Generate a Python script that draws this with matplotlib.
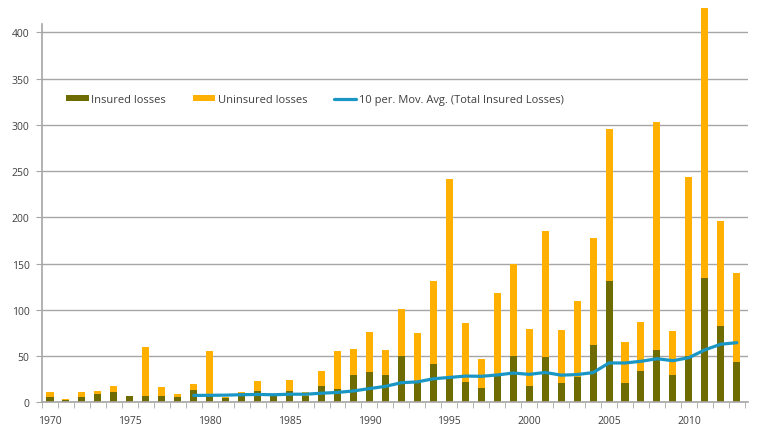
import matplotlib
matplotlib.use("Agg")
import matplotlib.pyplot as plt
import numpy as np
import pandas as pd

years = list(range(1970, 2014))
insured = [6, 3, 6, 9, 11, 6.5, 7, 6.5, 6, 13.5,
           7, 5, 10.5, 12, 7.5, 12.5, 6.8, 17.5, 14.5, 29.5,
           32.5, 29, 50, 21, 41, 27, 21.5, 15, 29, 50.5,
           18, 49.5, 21, 27.5, 62, 131.5, 21, 33.5, 56.5, 29.5,
           50.5, 134, 82, 44]
total = [11, 4, 11, 12, 18, 7, 59.5, 17, 8.5, 20,
         55.5, 6, 11.5, 22.5, 8, 24, 11.5, 33.5, 55, 58,
         75.5, 56.5, 100.5, 74.5, 131, 241.5, 85.5, 47, 118, 150,
         79.5, 185, 78, 110, 178, 295, 65, 86.5, 303, 77,
         244, 426, 196, 140]
uninsured = [t - i for t, i in zip(total, insured)]
mov_avg = pd.Series(insured).rolling(10).mean()

yticks = [0, 50, 100, 150, 200, 250, 300, 350, 400]
xlabels = [1970, 1975, 1980, 1985, 1990, 1995, 2000, 2005, 2010]

plt.rcParams['font.family'] = ['Open Sans', 'DejaVu Sans']
fig = plt.figure(figsize=(7.8, 4.35), dpi=100)
ax = fig.add_axes([42/780, (435-403.3)/435, (748-42)/780, (403.3-25)/435])

olive = '#6e6c00'
orange = '#ffb000'
blue = '#1a96c4'
grey = '#a6a6a6'
txt = '#404040'

w = 0.44
b1 = ax.bar(years, insured, width=w, color=olive, label='Insured losses', zorder=2, clip_on=False)
b2 = ax.bar(years, uninsured, width=w, bottom=insured, color=orange, label='Uninsured losses', zorder=2, clip_on=False)
l1, = ax.plot(years, mov_avg, color=blue, lw=2.3, label='10 per. Mov. Avg. (Total Insured Losses)', zorder=3,
              solid_capstyle='round', solid_joinstyle='round')

ax.set_xlim(1969.5, 2013.7)
ax.set_ylim(0, 409)
ax.set_yticks(yticks)
ax.set_yticklabels([str(v) for v in yticks])
ax.set_xticks(xlabels)
ax.set_xticklabels([str(v) for v in xlabels])
ax.set_xticks(np.arange(1969.5, 2014, 1), minor=True)
ax.tick_params(axis='x', which='major', length=0, pad=9, labelsize=7.5, labelcolor=txt)
ax.tick_params(axis='x', which='minor', length=4, color=grey, direction='out')
ax.tick_params(axis='y', length=4, color=grey, pad=5, labelsize=7.5, labelcolor=txt)

ax.grid(axis='y', color=grey, lw=1.0, zorder=0)
ax.set_axisbelow(True)
for s in ['top', 'right']:
    ax.spines[s].set_visible(False)
for s in ['left', 'bottom']:
    ax.spines[s].set_color(grey)
    ax.spines[s].set_linewidth(1.2)

leg = ax.legend(handles=[b1, b2, l1], loc='center', bbox_to_anchor=(0.387, 0.80), ncol=3, frameon=False,
                fontsize=8, handlelength=2.0, handleheight=0.45, columnspacing=2.4,
                handletextpad=0.25, labelcolor=txt)

fig.savefig('out.png', dpi=100)
